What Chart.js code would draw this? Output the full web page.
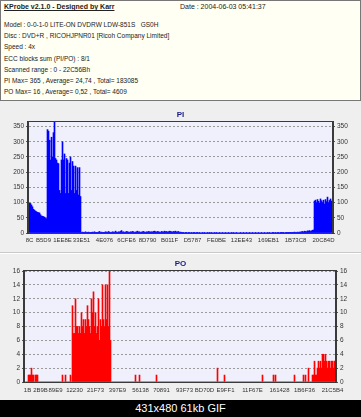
<!DOCTYPE html>
<html><head><meta charset="utf-8">
<script src="https://cdn.jsdelivr.net/npm/chart.js@4.4.1/dist/chart.umd.min.js"></script>
<style>
html,body{margin:0;padding:0;width:361px;height:417px;overflow:hidden;background:#efefef;font-family:"Liberation Sans",Arial,sans-serif;}
#hdr{position:absolute;left:0;top:0;width:359px;height:99px;border:1px solid #777;background:#fffff3;}
.t{position:absolute;font-size:6.5px;color:#222;white-space:nowrap;line-height:8px;}
.b{font-weight:bold;text-decoration:underline;font-size:7px;}
.d{font-size:7px;}
#foot{position:absolute;left:0;top:400px;width:361px;height:17px;background:#000;color:#fff;font-size:11px;line-height:17px;text-align:center;}
.sep1{position:absolute;left:0;width:361px;height:1px;background:#c8c8c8;}
.sep2{position:absolute;left:0;width:361px;height:1px;background:#fff;}
canvas{position:absolute;left:0;}
</style></head>
<body>
<div id="hdr"></div>
<div class="t b" style="left:4px;top:3px;">KProbe v2.1.0 - Designed by Karr</div>
<div class="t d" style="left:180px;top:3px;">Date : 2004-06-03 05:41:37</div>
<div class="t" style="left:4px;top:21px;">Model : 0-0-1-0 LITE-ON DVDRW LDW-851S&nbsp;&nbsp; GS0H</div>
<div class="t" style="left:4px;top:32px;">Disc : DVD+R , RICOHJPNR01 [Ricoh Company Limited]</div>
<div class="t" style="left:4px;top:43px;">Speed : 4x</div>
<div class="t" style="left:4px;top:55px;">ECC blocks sum (PI/PO) : 8/1</div>
<div class="t" style="left:4px;top:66px;">Scanned range : 0 - 22C56Bh</div>
<div class="t" style="left:4px;top:77px;">PI Max= 365 , Average= 24,74 , Total= 183085</div>
<div class="t" style="left:4px;top:88px;">PO Max= 16 , Average= 0,52 , Total= 4609</div>
<div class="sep1" style="top:252px;"></div>
<div class="sep2" style="top:253px;"></div>
<canvas id="pi" width="361" height="149" style="top:103px;"></canvas>
<canvas id="po" width="361" height="146" style="top:254px;"></canvas>
<div id="foot">431x480 61kb GIF</div>
<script>
// ---- data ----
const PI_TICKS = ['8C','B5D9','1EE8E','33E51','4E076','6CFE6','8D790','B011F','D5787','FE0BE','12EE43','169EB1','1B73C8','20C84D'];
const PI_TICK_AT = [0,14,33,52,75,97,118,140,163,187,212,239,266,294];
const PO_TICKS = ['1B','2B9B','89E9','12230','21F73','397E9','56138','70891','93F73','BD70D','E9FF1','11F67E','161428','1B6F36','21C5B4'];
const PO_TICK_AT = [2,15,30,49,70,92,115,136,159,179,200,227,254,279,307];

const PI = [
98,97,92,86,78,75,72,70,68,67,66,60,56,55,54,52,48,47,
340,335,305,240,315,250,330,365,245,240,230,228,140,130,240,300,240,260,130,245,240,130,230,250,140,235,220,130,220,140,215,125,215,120,
2,3,1,2,4,2,1,3,2,2,
1,3,2,4,2,1,2,3,5,2,
3,2,1,2,4,3,2,5,3,2,
2,4,3,2,6,3,2,4,3,5,
8,3,4,2,3,5,4,3,2,4,
3,5,4,2,3,4,6,3,4,2,
3,4,5,3,2,4,3,5,4,3,
4,3,5,6,4,3,5,4,3,2,
5,4,3,6,4,5,3,4,6,5,
4,3,5,4,6,3,4,5,2,3,
1,2,1,0,1,1,0,1,2,0,
1,0,1,1,0,2,1,0,1,0,
0,1,0,1,0,0,1,0,1,0,
1,0,0,1,0,1,0,0,1,0,
0,1,0,0,1,0,0,1,0,0,
1,0,1,0,0,1,0,0,0,1,
0,0,1,0,0,1,0,0,1,0,
0,1,0,0,1,0,0,1,0,0,
1,0,0,1,0,0,1,0,1,0,
0,1,1,0,1,0,2,1,0,1,
1,2,1,0,2,1,2,1,2,1,
2,1,2,3,2,2,3,2,3,
3,4,5,3,6,5,4,7,6,8,5,7,9,10,
105,108,100,110,104,98,112,106,100,108,95,110,103,118,100,107,112,105
];

const PO = [
0,0,0,
1,1,1,2,1,1,0,1,1,1,0,
0,0,0,0,0,0,0,0,0,0, 0,0,0,0,0,0,0,0,0,0, 0,0,0,
1,0,0,1,0,0,0,0,1,0,
11,7,7,12,8,8,7,8,7,10,8,9,7,9,8,11,9,8,7,12,10,13,8,10,7,8,12,6,9,8,14,9,8,14,9,14,8,16,6,
0,0,0,0,0,0,0,0,0,0, 0,0,0,0,0,0,0,0,0,0, 0,0,0,0,
1,0,0,0,1,
0,0,0,0,0,0,0,0,0,0, 0,0,0,0,0,0,
1,
0,0,0,0,0,0,0,0,0,0, 0,0,0,0,0,0,0,0,0,0, 0,0,0,0,0,0,0,0,0,0,
0,0,0,0,0,0,0,0,0,0, 0,0,0,0,0,0,0,0,0,0, 0,0,0,0,0,0,0,0,0,0,
2,0,0,0,0,0,0,1,
0,0,0,0,0,0,0,0,0,0, 0,0,0,0,0,0,0,0,0,0, 0,0,0,0,0,0,0,0,0,0, 0,0,0,0,0,0,0,
1,
0,0,0,0,0,0,0,0,0,0,
1,0,1,
0,0,0,0,0,0,0,0,0,0, 0,0,0,0,0,0,0,0,
1,
0,0,0,0,0,0,0,0,
1,0,1,0,0,2,0,0,0,
1,1,3,1,1,2,3,2,3,2,4,4,3,4,3,2,3,3,2,3,3,2,3
];

// ---- drawing ----
Chart.defaults.font.family = '"Liberation Sans", Arial, sans-serif';
Chart.defaults.font.size = 6.5;
Chart.defaults.color = '#333';

const framePlugin = {
  id: 'frame',
  beforeDraw(chart) {
    const a = chart.chartArea, ctx = chart.ctx;
    ctx.save();
    ctx.fillStyle = '#f0f0fc';
    ctx.fillRect(a.left, a.top, a.right - a.left, a.bottom - a.top);
    ctx.restore();
  },
  afterDraw(chart) {
    const a = chart.chartArea, ctx = chart.ctx;
    ctx.save();
    ctx.strokeStyle = '#3a3a3a';
    ctx.lineWidth = 1;
    ctx.strokeRect(a.left - 0.5, a.top - 0.5, a.right - a.left + 1, a.bottom - a.top + 1);
    ctx.beginPath();
    ctx.moveTo(a.left - 1.5, a.top - 1); ctx.lineTo(a.left - 1.5, a.bottom + 1);
    ctx.moveTo(a.right + 1.5, a.top - 1); ctx.lineTo(a.right + 1.5, a.bottom + 1);
    ctx.stroke();
    ctx.restore();
  }
};

function makeChart(id, values, color, tickLabels, tickAt, yMax, yStep, title, leftW, rightW, titleTop, titleBottom, xAxisH, xPad) {
  const labels = values.map((v, i) => i);
  return new Chart(document.getElementById(id), {
    type: 'bar',
    data: { labels, datasets: [{ data: values, backgroundColor: color, borderWidth: 0,
      barPercentage: 1, categoryPercentage: 1, xAxisID: 'x', yAxisID: 'y' }] },
    options: {
      responsive: false, animation: false, devicePixelRatio: 1,
      layout: { padding: 0 },
      plugins: {
        legend: { display: false }, tooltip: { enabled: false },
        title: { display: true, text: title, color: '#1a1a8a',
          font: { size: 8, weight: 'bold' }, padding: { top: titleTop, bottom: titleBottom } }
      },
      scales: {
        x: {
          type: 'category', offset: true,
          grid: { display: false, drawTicks: false },
          border: { display: false },
          ticks: { autoSkip: false, maxRotation: 0, minRotation: 0, padding: xPad, color: '#333',
            font: { size: 6 },
            callback: (v, i) => { const k = tickAt.indexOf(i); return k >= 0 ? tickLabels[k] : ''; } },
          afterFit: (axis) => { axis.height = xAxisH; }
        },
        y: {
          type: 'linear', position: 'left', min: 0, max: yMax,
          ticks: { stepSize: yStep, includeBounds: false, padding: 2, color: '#333' },
          grid: { color: '#9a9a9a', lineWidth: 1, drawTicks: true, tickLength: 3, tickColor: '#555', tickBorderDash: [] },
          border: { display: false, dash: [2, 2] },
          afterFit: (axis) => { axis.width = leftW; }
        },
        y2: {
          type: 'linear', position: 'right', min: 0, max: yMax,
          ticks: { stepSize: yStep, includeBounds: false, padding: 2, color: '#333' },
          grid: { drawOnChartArea: false, drawTicks: true, tickLength: 3, tickColor: '#555' },
          border: { display: false },
          afterFit: (axis) => { axis.width = rightW; }
        }
      }
    },
    plugins: [framePlugin]
  });
}

makeChart('pi', PI, '#0000ff', PI_TICKS, PI_TICK_AT, 365, 50, 'PI', 29, 29, 7, 2.4, 19, 4);
makeChart('po', PO, '#ff0000', PO_TICKS, PO_TICK_AT, 16, 2, 'PO', 25, 26, 5, 2.4, 18, 5);
</script>
</body></html>
